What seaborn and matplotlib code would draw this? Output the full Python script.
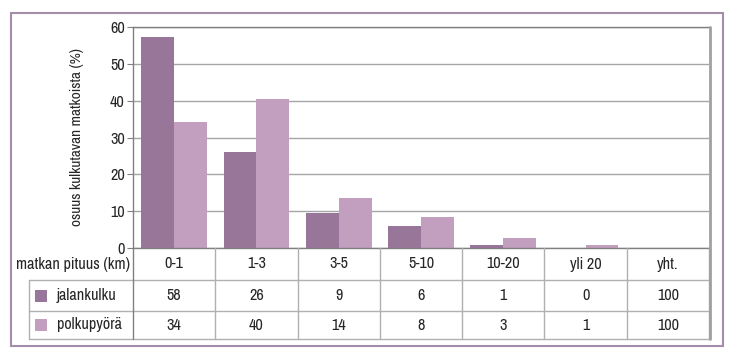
import numpy as np
import pandas as pd
import seaborn as sns
import matplotlib.pyplot as plt
from matplotlib.patches import Rectangle
from matplotlib.lines import Line2D

# data
categories = ['0-1', '1-3', '3-5', '5-10', '10-20', 'yli 20', 'yht.']
series = ['jalankulku', 'polkupyörä']
jalankulku_bar = [57.3, 26.1, 9.5, 6.0, 0.9, 0.0, 0.0]
polkupyora_bar = [34.2, 40.5, 13.7, 8.4, 2.7, 0.8, 0.0]
jalankulku_tab = [58, 26, 9, 6, 1, 0, 100]
polkupyora_tab = [34, 40, 14, 8, 3, 1, 100]
colors = ['#987699', '#c29fbf']

df = pd.DataFrame({
    'matka': categories * 2,
    'kulkutapa': [series[0]] * len(categories) + [series[1]] * len(categories),
    'osuus': jalankulku_bar + polkupyora_bar,
})

sns.set_style('white')
plt.rcParams['font.family'] = ['Archivo Narrow', 'Liberation Sans', 'DejaVu Sans']
plt.rcParams['font.size'] = 11
fs = 11.6

W, H = 738, 357
fig = plt.figure(figsize=(W / 100, H / 100), dpi=100)

# plot area in pixels
L, R, T, B = 133, 709, 27, 248
ax = fig.add_axes([L / W, 1 - B / H, (R - L) / W, (B - T) / H])
sns.barplot(data=df, x='matka', y='osuus', hue='kulkutapa', order=categories,
            hue_order=series, palette=colors, width=0.8, saturation=1,
            linewidth=0, ax=ax, legend=False)
ax.set_xlim(-0.5, len(categories) - 0.5)
ax.set_ylim(0, 60)
ax.set_yticks(range(0, 61, 10))
ax.yaxis.grid(True, color='#a6a6a6', lw=1)
ax.set_axisbelow(True)
ax.set_xlabel('')
ax.set_xticks([])
ax.set_ylabel('osuus kulkutavan matkoista (%)', fontsize=11, labelpad=19)
ax.tick_params(axis='y', length=4, color='#808080', labelsize=fs, pad=2, left=True)
for s in ['left', 'top', 'bottom']:
    ax.spines[s].set_color('#808080')
    ax.spines[s].set_linewidth(1)
ax.spines['right'].set_visible(False)

# overlay in pixel coordinates for the table and the frame
ov = fig.add_axes([0, 0, 1, 1], facecolor='none')
ov.set_xlim(0, W)
ov.set_ylim(H, 0)
ov.axis('off')

cw = (R - L) / len(categories)
tl = 29
rows_y = [B, 280, 311, 339]
gc = '#b0b0b0'

# horizontal table lines
for y in rows_y[1:]:
    ov.add_line(Line2D([tl, R], [y, y], color=gc, lw=1))
# vertical lines
for i in range(len(categories) + 1):
    ov.add_line(Line2D([L + i * cw] * 2, [B, rows_y[-1]], color=gc if i else '#808080', lw=1))
ov.add_line(Line2D([tl, tl], [rows_y[1], rows_y[-1]], color=gc, lw=1))
# right shadow edge
ov.add_line(Line2D([R + 0.5, R + 0.5], [T, rows_y[-1]], color='#a0a0a0', lw=2))

# header row
hy = (rows_y[0] + rows_y[1]) / 2
ov.text(L - 3, hy, 'matkan pituus (km)', ha='right', va='center', fontsize=fs)
for i, c in enumerate(categories):
    ov.text(L + (i + 0.5) * cw, hy, c, ha='center', va='center', fontsize=fs)

# data rows
for r, (name, vals, col) in enumerate(zip(series, [jalankulku_tab, polkupyora_tab], colors)):
    cy = (rows_y[r + 1] + rows_y[r + 2]) / 2
    ov.add_patch(Rectangle((35, cy - 6), 12, 12, color=col, lw=0))
    ov.text(57, cy, name, ha='left', va='center', fontsize=fs)
    for i, v in enumerate(vals):
        ov.text(L + (i + 0.5) * cw, cy, str(v), ha='center', va='center', fontsize=fs)

# outer frame
ov.add_patch(Rectangle((11, 13), 712, 333, fill=False, ec='#a58cab', lw=1.5))

fig.savefig('out.png', dpi=100)
